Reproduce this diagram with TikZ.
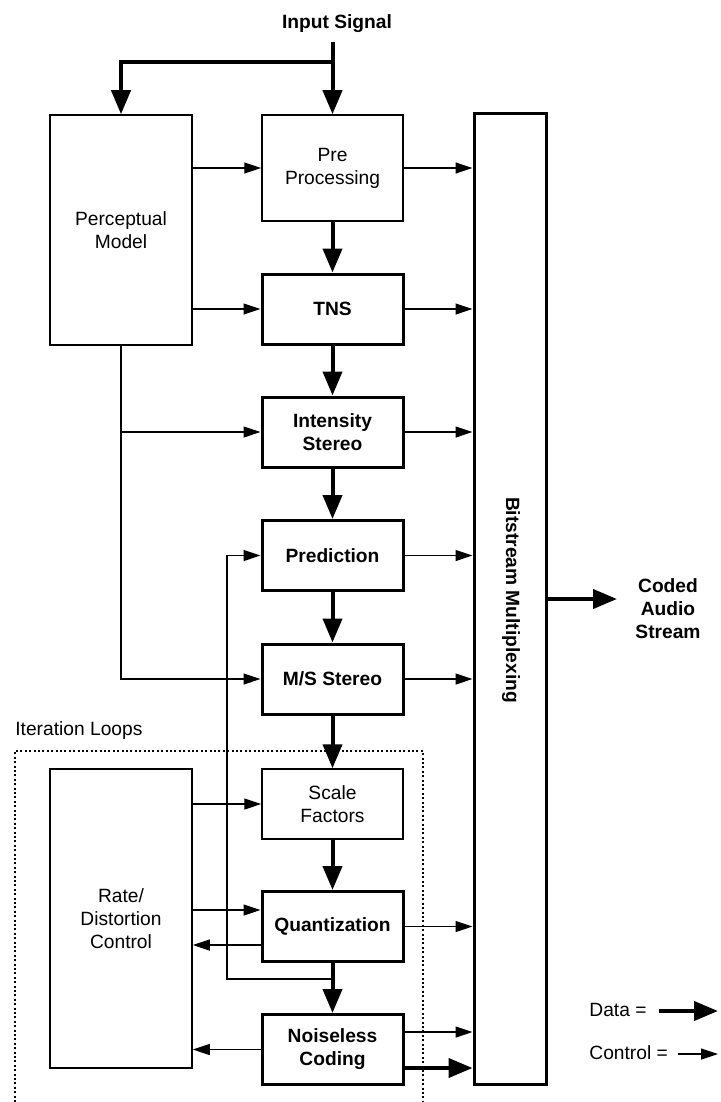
\documentclass[tikz,border=0pt]{standalone}
\usepackage{fontspec}
\setmainfont{Liberation Sans}
\usetikzlibrary{arrows.meta,calc}
\begin{document}
\begin{tikzpicture}[x=0.5pt,y=-0.5pt,
  every node/.style={font=\fontsize{9.6}{11.5}\selectfont, align=center, inner sep=0pt},
  lbl/.style={font=\fontsize{9.6}{11.5}\selectfont\bfseries},
  thinbox/.style={draw, line width=0.75pt, minimum width=70.5pt},
  thickbox/.style={draw, line width=1.5pt, minimum width=70.5pt, minimum height=35pt,
    font=\fontsize{9.6}{11.5}\selectfont\bfseries},
  data/.style={line width=2pt, -{Triangle[length=12pt,width=9.5pt]}},
  ctrl/.style={line width=0.6pt, -{Triangle[length=8.5pt,width=5.5pt]}},
  wire/.style={line width=0.6pt},
  loopframe/.style={line width=0.8pt, dash pattern=on 1pt off 1.2pt}
]
\useasboundingbox (0,0) rectangle (720,1102);

% ---- blocks ----
\node[lbl] (insig) at (337,24) {Input Signal};
\node[thinbox, minimum width=71pt, minimum height=115pt] (perc) at (121,230) {Perceptual\\Model};
\node[thinbox, minimum height=53pt] (pre) at (332.5,168) {Pre\\Processing};
\node[thickbox] (tns) at (332.5,309) {TNS};
\node[thickbox] (ist) at (332.5,432) {Intensity\\Stereo};
\node[thickbox] (pred) at (332.5,555.5) {Prediction};
\node[thickbox] (ms) at (332.5,679) {M/S Stereo};
\node[thinbox, minimum height=35pt] (sf) at (332.5,804) {Scale\\Factors};
\node[thickbox] (quant) at (332.5,926.5) {Quantization};
\node[thickbox] (nc) at (332.5,1049.5) {Noiseless\\Coding};
\node[thinbox, minimum width=71pt, minimum height=149.5pt] (rd) at (121,918.5) {Rate/\\Distortion\\Control};
\node[draw, line width=1.5pt, minimum width=36pt, minimum height=485pt] (bit) at (510,599) {};
\node[lbl, rotate=-90] (bittxt) at (511,600) {Bitstream Multiplexing};
\node[lbl] (coded) at (668,609) {Coded\\Audio\\Stream};

% ---- iteration loop frame ----
\node[anchor=west] (iterlbl) at (15,731) {Iteration Loops};
\draw[loopframe] (15,1102) -- (15,751) -- (423,751) -- (423,1102);

% ---- input split ----
\coordinate (src) at (332.5,42);
\coordinate (split) at (332.5,62);
\draw[data] (src) -- (pre.north);
\draw[line width=2pt] (split) -| ($(perc.north)+(0,-14)$);
\draw[data] (split) -| (perc.north);

% ---- data path ----
\draw[data] (pre) -- (tns);
\draw[data] (tns) -- (ist);
\draw[data] (ist) -- (pred);
\draw[data] (pred) -- (ms);
\draw[data] (ms) -- (sf);
\draw[data] (sf) -- (quant);
\draw[data] (quant) -- (nc);

% ---- perceptual model control ----
\draw[ctrl] (perc.east |- pre.west) -- (pre.west);
\draw[ctrl] (perc.east |- tns.west) -- (tns.west);
\draw[ctrl] (perc.south) |- (ms.west);
\draw[ctrl] (perc.south |- ist.west) -- (ist.west);

% ---- prediction feedback ----
\coordinate (fb) at (332.5,979);
\coordinate (fbx) at (227,979);
\draw[ctrl] (fb) -- (fbx) |- (pred.west);

% ---- rate / distortion control ----
\coordinate (qin) at ($(quant.west)+(0,-16.5)$);
\coordinate (qout) at ($(quant.west)+(0,18.5)$);
\draw[ctrl] (rd.east |- sf.west) -- (sf.west);
\draw[ctrl] (rd.east |- qin) -- (qin);
\draw[ctrl] (qout) -- (qout -| rd.east);
\draw[ctrl] (nc.west) -- (nc.west -| rd.east);

% ---- side information to the multiplexer ----
\foreach \b in {pre,tns,ist,pred,ms,quant}
  \draw[ctrl] (\b.east) -- (\b.east -| bit.west);
\coordinate (ncc) at ($(nc.east)+(0,-17.5)$);
\coordinate (ncd) at ($(nc.east)+(0,18.5)$);
\draw[ctrl] (ncc) -- (ncc -| bit.west);
\draw[data] (ncd) -- (ncd -| bit.west);

% ---- output ----
\coordinate (cout) at (617,599);
\draw[data] (bit.east) -- (cout);

% ---- legend ----
\node[anchor=west] (dlbl) at (589,1010) {Data =};
\node[anchor=west] (clbl) at (589,1053) {Control =};
\coordinate (ds) at (659,1011);
\coordinate (de) at (718,1011);
\coordinate (cs) at (678,1054);
\coordinate (ce) at (718,1054);
\draw[data] (ds) -- (de);
\draw[ctrl] (cs) -- (ce);
\end{tikzpicture}
\end{document}
